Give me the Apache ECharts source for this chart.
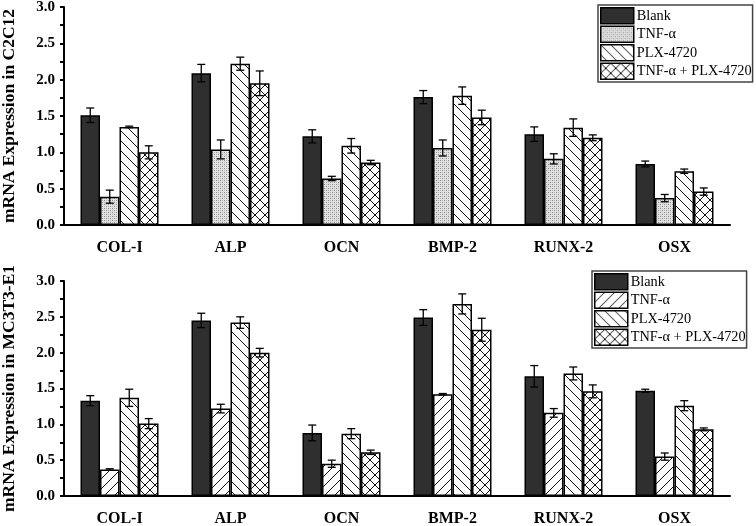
<!DOCTYPE html>
<html>
<head>
<meta charset="utf-8">
<script src="https://cdn.jsdelivr.net/npm/echarts@6/dist/echarts.min.js"></script>
<style>
  html, body { margin: 0; padding: 0; background: #fff; }
  #chart { width: 756px; height: 526px; }
</style>
</head>
<body>
<div id="chart"></div>
<script>
// =====================
// data
// =====================

const categories = ["COL-I", "ALP", "OCN", "BMP-2", "RUNX-2", "OSX"];
const seriesNames = ["Blank", "TNF-α", "PLX-4720", "TNF-α + PLX-4720"];
const yTicks = [0, 0.5, 1.0, 1.5, 2.0, 2.5, 3.0];

// C2C12 (top panel)
const c2c12Blank = [1.51, 2.09, 1.22, 1.76, 1.25, 0.84];
const c2c12BlankErr = [0.10, 0.12, 0.09, 0.09, 0.10, 0.04];
const c2c12Tnf = [0.39, 1.04, 0.64, 1.06, 0.91, 0.37];
const c2c12TnfErr = [0.09, 0.13, 0.03, 0.11, 0.07, 0.05];
const c2c12Plx = [1.35, 2.22, 1.09, 1.78, 1.34, 0.74];
const c2c12PlxErr = [0.01, 0.09, 0.10, 0.12, 0.12, 0.03];
const c2c12Combo = [1.00, 1.95, 0.86, 1.48, 1.20, 0.46];
const c2c12ComboErr = [0.09, 0.17, 0.03, 0.10, 0.04, 0.05];

// MC3T3-E1 (bottom panel)
const mc3t3Blank = [1.33, 2.45, 0.88, 2.49, 1.67, 1.47];
const mc3t3BlankErr = [0.07, 0.10, 0.11, 0.11, 0.15, 0.02];
const mc3t3Tnf = [0.37, 1.22, 0.45, 1.42, 1.16, 0.55];
const mc3t3TnfErr = [0.01, 0.06, 0.05, 0.01, 0.06, 0.05];
const mc3t3Plx = [1.37, 2.42, 0.87, 2.68, 1.71, 1.26];
const mc3t3PlxErr = [0.12, 0.08, 0.07, 0.14, 0.09, 0.07];
const mc3t3Combo = [1.01, 2.00, 0.61, 2.32, 1.46, 0.93];
const mc3t3ComboErr = [0.07, 0.06, 0.03, 0.16, 0.09, 0.02];

// =====================
// patterns
// =====================

const SERIF = "Liberation Serif";
const BAR_W = 19.5;

function makePattern(kind) {
  const c = document.createElement("canvas");
  const size = kind === "dots" ? 4 : 10;
  c.width = size;
  c.height = size;
  const ctx = c.getContext("2d");
  ctx.fillStyle = kind === "dots" ? "#e2e2e2" : "#fff";
  ctx.fillRect(0, 0, size, size);

  if (kind === "dots") {
    ctx.fillStyle = "#8a8a8a";
    ctx.fillRect(0, 0, 1, 1);
    ctx.fillRect(2, 2, 1, 1);
    ctx.fillStyle = "#b4b4b4";
    ctx.fillRect(2, 0, 1, 1);
    ctx.fillRect(0, 2, 1, 1);
    return { image: c, repeat: "repeat" };
  }

  ctx.strokeStyle = "#111";
  ctx.lineWidth = 1;
  for (const k of [-10, 0, 10]) {
    if (kind === "back" || kind === "cross") {
      ctx.beginPath();
      ctx.moveTo(k, 0);
      ctx.lineTo(k + 10, 10);
      ctx.stroke();
    }
    if (kind === "fwd" || kind === "cross") {
      ctx.beginPath();
      ctx.moveTo(k, 10);
      ctx.lineTo(k + 10, 0);
      ctx.stroke();
    }
  }
  return { image: c, repeat: "repeat" };
}

const blankFill = "#2f2f2f";
const topFills = [blankFill, makePattern("dots"), makePattern("back"), makePattern("cross")];
const bottomFills = [blankFill, makePattern("fwd"), makePattern("back"), makePattern("cross")];

// =====================
// axes
// =====================

function xAxes(gridIndex) {
  return [
    {
      type: "category",
      gridIndex: gridIndex,
      position: "bottom",
      data: categories,
      axisLine: { lineStyle: { color: "#000", width: 2 } },
      axisTick: { length: 4, lineStyle: { color: "#000", width: 2 } },
      axisLabel: {
        color: "#000",
        fontFamily: SERIF,
        fontWeight: "bold",
        fontSize: 16,
        margin: 15,
      },
    },
    {
      type: "category",
      gridIndex: gridIndex,
      position: "bottom",
      data: categories,
      axisLine: { show: false },
      axisTick: { alignWithLabel: true, length: 8, lineStyle: { color: "#000", width: 2 } },
      axisLabel: { show: false },
    },
  ];
}

function yAxis(gridIndex, name) {
  return {
    type: "value",
    gridIndex: gridIndex,
    min: 0,
    max: 3,
    interval: 0.5,
    name: name,
    nameLocation: "middle",
    nameRotate: 90,
    nameGap: 46,
    nameTextStyle: {
      color: "#000",
      fontFamily: SERIF,
      fontWeight: "bold",
      fontSize: 17.5,
    },
    axisLine: { show: true, lineStyle: { color: "#000", width: 2 } },
    axisTick: { show: true, length: 4, lineStyle: { color: "#000", width: 2 } },
    minorTick: { show: true, splitNumber: 2, length: 4, lineStyle: { color: "#000", width: 2 } },
    splitLine: { show: false },
    axisLabel: {
      color: "#000",
      fontFamily: SERIF,
      fontWeight: "bold",
      fontSize: 15,
      margin: 9,
      formatter: (v) => (yTicks.includes(v) ? v.toFixed(1) : ""),
    },
  };
}

// =====================
// series
// =====================

function barSeries(gridIndex, name, values, fill) {
  return {
    type: "bar",
    name: name,
    xAxisIndex: gridIndex * 2,
    yAxisIndex: gridIndex,
    barWidth: BAR_W,
    barGap: "0%",
    itemStyle: { color: fill, borderColor: "#000", borderWidth: 1.5 },
    data: values,
  };
}

function errorSeries(gridIndex, slot, values, errs) {
  return {
    type: "custom",
    xAxisIndex: gridIndex * 2,
    yAxisIndex: gridIndex,
    z: 5,
    silent: true,
    data: values.map((v, j) => [j, v, errs[j]]),
    renderItem: (params, api) => {
      const j = api.value(0);
      const v = api.value(1);
      const e = api.value(2);
      const x = api.coord([j, v])[0] + (slot - 1.5) * BAR_W;
      const yHi = api.coord([j, v + e])[1];
      const yLo = api.coord([j, v - e])[1];
      const cap = 4;
      const style = { stroke: "#000", lineWidth: 1.3 };
      return {
        type: "group",
        children: [
          { type: "line", shape: { x1: x, y1: yHi, x2: x, y2: yLo }, style: style },
          { type: "line", shape: { x1: x - cap, y1: yHi, x2: x + cap, y2: yHi }, style: style },
          { type: "line", shape: { x1: x - cap, y1: yLo, x2: x + cap, y2: yLo }, style: style },
        ],
      };
    },
  };
}

function legend(left, top, fills) {
  return {
    orient: "vertical",
    left: left,
    top: top,
    padding: [2, 1, 2, 2],
    itemGap: 1,
    itemWidth: 33,
    itemHeight: 16,
    icon: "rect",
    backgroundColor: "#fff",
    borderColor: "#444",
    borderWidth: 1.5,
    borderRadius: 0,
    selectedMode: false,
    textStyle: {
      color: "#000",
      fontFamily: SERIF,
      fontSize: 14.3,
      lineHeight: 16,
      padding: [0, 0, 0, -2],
    },
    data: seriesNames.map((n, i) => ({
      name: n,
      itemStyle: { color: fills[i], borderColor: "#000", borderWidth: 1.5 },
    })),
  };
}

const topValues = [c2c12Blank, c2c12Tnf, c2c12Plx, c2c12Combo];
const topErrs = [c2c12BlankErr, c2c12TnfErr, c2c12PlxErr, c2c12ComboErr];
const bottomValues = [mc3t3Blank, mc3t3Tnf, mc3t3Plx, mc3t3Combo];
const bottomErrs = [mc3t3BlankErr, mc3t3TnfErr, mc3t3PlxErr, mc3t3ComboErr];

const series = [];
seriesNames.forEach((n, i) => series.push(barSeries(0, n, topValues[i], topFills[i])));
seriesNames.forEach((n, i) => series.push(barSeries(1, n, bottomValues[i], bottomFills[i])));
seriesNames.forEach((n, i) => series.push(errorSeries(0, i, topValues[i], topErrs[i])));
seriesNames.forEach((n, i) => series.push(errorSeries(1, i, bottomValues[i], bottomErrs[i])));

// =====================
// chart
// =====================

const chart = echarts.init(document.getElementById("chart"));

chart.setOption({
  animation: false,
  backgroundColor: "#fff",
  grid: [
    { left: 64, right: 26, top: 7, bottom: 301, outerBoundsMode: "none" },
    { left: 64, right: 26, top: 281, bottom: 30, outerBoundsMode: "none" },
  ],
  legend: [legend(598, 5, topFills), legend(592, 271, bottomFills)],
  xAxis: [...xAxes(0), ...xAxes(1)],
  yAxis: [yAxis(0, "mRNA Expression in C2C12"), yAxis(1, "mRNA Expression in MC3T3-E1")],
  series: series,
});
</script>
</body>
</html>
